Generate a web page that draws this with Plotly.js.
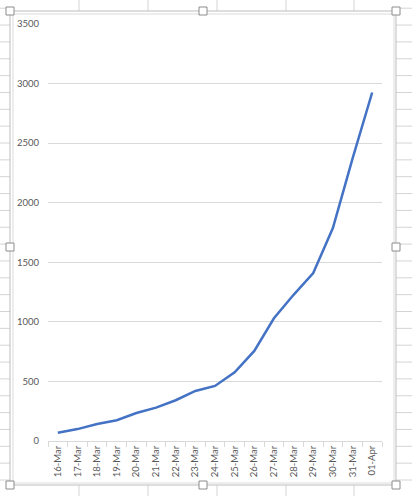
<!DOCTYPE html>
<html>
<head>
<meta charset="utf-8">
<script src="https://cdn.plot.ly/plotly-3.0.1.min.js"></script>
<style>html,body{margin:0;padding:0;background:#fff;}#chart{width:412px;height:496px;}</style>
</head>
<body>
<div id="chart"></div>
<script>
var dates = ["16-Mar","17-Mar","18-Mar","19-Mar","20-Mar","21-Mar","22-Mar","23-Mar","24-Mar","25-Mar","26-Mar","27-Mar","28-Mar","29-Mar","30-Mar","31-Mar","01-Apr"];
var cases = [70, 100, 143, 174, 235, 280, 342, 420, 462, 577, 756, 1030, 1227, 1410, 1787, 2370, 2925];

var W = 412, H = 496, ML = 48, MR = 30, MT = 24, MB = 55;
function px(x){ return (x - ML) / (W - ML - MR); }
function py(y){ return 1 - (y - MT) / (H - MT - MB); }

var shapes = [];
// spreadsheet background grid
var sheet = '#d4d4d4';
for (var k = 0; k < 30; k++) {
  var yy = 8.2 + k * 16.85;
  if (yy > H) break;
  shapes.push({type:'line', xref:'paper', yref:'paper', x0:px(0), x1:px(10), y0:py(yy), y1:py(yy), line:{color:sheet, width:1}, layer:'below'});
  shapes.push({type:'line', xref:'paper', yref:'paper', x0:px(396), x1:px(412), y0:py(yy), y1:py(yy), line:{color:sheet, width:1}, layer:'below'});
}
[79,148,217,286,354].forEach(function(cx){
  shapes.push({type:'line', xref:'paper', yref:'paper', x0:px(cx), x1:px(cx), y0:py(0), y1:py(11), line:{color:sheet, width:1}, layer:'below'});
  shapes.push({type:'line', xref:'paper', yref:'paper', x0:px(cx), x1:px(cx), y0:py(485), y1:py(496), line:{color:sheet, width:1}, layer:'below'});
});
// chart area
shapes.push({type:'rect', xref:'paper', yref:'paper', x0:px(10), x1:px(396), y0:py(485), y1:py(11), fillcolor:'#ffffff', line:{color:'#bdbdbd', width:1}, layer:'below'});
shapes.push({type:'rect', xref:'paper', yref:'paper', x0:px(13), x1:px(394), y0:py(483), y1:py(14), fillcolor:'rgba(0,0,0,0)', line:{color:'#dcdcdc', width:1}, layer:'below'});
// handles
[[10,11],[203,11],[396,11],[10,247],[396,247],[10,485],[203,485],[396,485]].forEach(function(p){
  shapes.push({type:'rect', xref:'paper', yref:'paper', x0:px(p[0]-4), x1:px(p[0]+4), y0:py(p[1]+4), y1:py(p[1]-4), fillcolor:'#ffffff', line:{color:'#8c8c8c', width:1}, layer:'above'});
});

var font = 'Lato, "Open Sans", "Liberation Sans", sans-serif';

Plotly.newPlot('chart', [{
  x: dates, y: cases, type: 'scatter', mode: 'lines',
  line: {color: '#4472C4', width: 2.5},
  hoverinfo: 'x+y'
}], {
  width: W, height: H,
  margin: {l: ML, r: MR, t: MT, b: MB, pad: 0},
  paper_bgcolor: '#ffffff', plot_bgcolor: 'rgba(0,0,0,0)',
  showlegend: false,
  font: {family: font, size: 9, color: '#595959'},
  xaxis: {
    type: 'category', tickangle: -90, showgrid: false,
    range: [-0.5, dates.length - 0.5],
    showline: true, linecolor: '#d9d9d9', linewidth: 1,
    ticks: 'outside', tickson: 'boundaries', ticklen: 5, tickcolor: '#d9d9d9',
    tickfont: {family: font, size: 9.5, color: '#595959'},
    zeroline: false, fixedrange: true
  },
  yaxis: {
    range: [0, 3500], dtick: 500, showgrid: true, gridcolor: '#d9d9d9', gridwidth: 1,
    zeroline: false, showline: false, ticks: '', ticklabelstandoff: 8,
    tickfont: {family: font, size: 9.5, color: '#595959'}, fixedrange: true
  },
  shapes: shapes
}, {displayModeBar: false, staticPlot: true});
</script>
</body>
</html>
